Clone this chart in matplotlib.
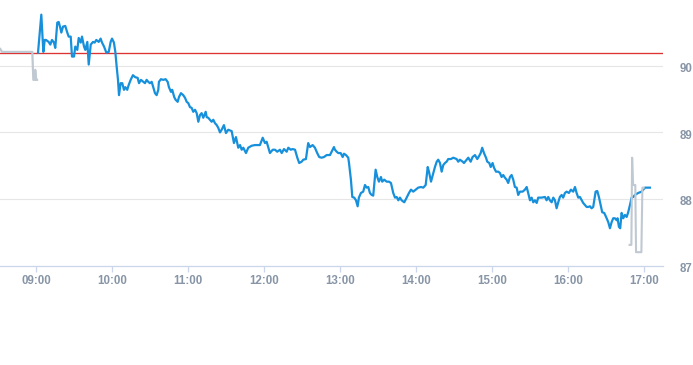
import matplotlib
matplotlib.use("Agg")
import matplotlib.pyplot as plt
from matplotlib.transforms import ScaledTranslation

plt.rcParams['font.family'] = ['Liberation Sans', 'DejaVu Sans']

# minutes after 09:00 and price, regular session
session_min = [1.6, 4.2, 5.8, 6.9, 7.9, 10.0, 11.3, 12.6, 14.2, 15.2, 16.8, 17.9, 19.2, 20.0, 21.3, 23.1,
               24.7, 25.8, 27.4, 28.4, 30.0, 31.0, 32.6, 33.7, 35.3, 36.3, 37.9, 38.9, 40.5, 41.6, 43.2,
               45.0, 46.3, 47.6, 49.5, 51.0, 52.1, 53.7, 55.5, 57.4, 58.9, 60.0, 61.5, 62.6, 63.7, 64.7,
               65.5, 66.8, 68.1, 69.4, 70.5, 72.0, 73.1, 74.7, 76.5, 78.3, 80.2, 81.3, 82.8, 84.7, 86.0,
               87.3, 88.6, 89.9, 91.3, 92.5, 93.9, 95.2, 96.5, 97.0, 98.6, 100.4, 102.3, 103.9, 104.9,
               106.5, 107.5, 109.1, 110.2, 111.8, 112.8, 114.4, 116.2, 117.6, 118.9, 120.2, 121.5, 122.8,
               124.1, 125.5, 126.8, 128.1, 129.4, 130.7, 132.0, 133.9, 134.7, 135.9, 137.3, 138.6, 139.9,
               141.2, 142.6, 143.8, 145.2, 146.5, 148.3, 149.9, 151.7, 154.4, 156.2, 157.8, 159.6, 161.0,
               162.3, 163.6, 165.7, 167.5, 170.2, 172.8, 176.7, 178.9, 180.7, 182.0, 184.6, 186.8, 188.6,
               190.4, 192.5, 193.9, 195.7, 197.8, 199.1, 201.0, 202.5, 204.4, 206.2, 207.7, 209.6, 210.9,
               213.0, 214.8, 216.2, 218.3, 220.1, 221.9, 223.5, 225.4, 227.2, 229.4, 232.0, 234.1, 235.1,
               235.9, 237.3, 238.5, 240.4, 242.0, 243.0, 244.6, 246.4, 247.0, 248.5, 249.6, 251.1, 252.5,
               253.8, 254.8, 256.4, 258.2, 259.6, 260.9, 262.2, 263.5, 264.9, 266.1, 268.0, 269.3, 270.6,
               272.2, 273.2, 274.8, 276.7, 278.5, 280.1, 281.9, 283.3, 284.6, 285.9, 287.2, 288.5, 290.6,
               292.5, 294.3, 295.9, 297.7, 299.6, 301.6, 303.8, 305.6, 307.5, 309.1, 310.1, 311.7, 313.5,
               314.8, 316.2, 317.4, 318.8, 320.1, 321.4, 322.7, 324.0, 325.3, 327.4, 329.3, 331.9, 333.2,
               334.5, 336.7, 337.7, 339.8, 341.1, 343.0, 344.5, 346.4, 348.2, 349.8, 350.9, 352.1, 353.5,
               355.1, 356.1, 357.7, 358.8, 360.3, 361.4, 363.0, 364.8, 366.1, 367.4, 368.7, 370.0, 371.4,
               372.6, 374.0, 375.3, 376.6, 377.9, 379.3, 380.5, 381.9, 384.0, 385.8, 387.2, 388.4, 389.8,
               391.1, 392.4, 393.7, 395.1, 396.3, 399.0, 401.6, 402.9, 404.2, 405.5, 406.9, 408.2, 409.5,
               410.8, 412.1, 413.4, 414.8, 416.0, 417.4, 418.7, 420.5, 422.1, 423.9, 425.3, 426.6, 427.9,
               429.2, 430.6, 431.8, 433.2, 434.5, 435.8, 437.1, 438.4, 439.7, 440.5, 441.6, 442.9, 444.2,
               445.2, 446.8, 448.4, 450.3, 451.6, 452.9, 454.2, 455.5, 456.8, 458.2, 458.9, 460.0, 461.0,
               462.1, 463.4, 464.7, 466.1, 467.3, 468.7, 470.0, 471.3, 472.6, 475.2, 477.9, 479.2, 480.5,
               484.4]
session_px = [90.20, 90.77, 90.21, 90.39, 90.39, 90.36, 90.32, 90.39, 90.35, 90.27, 90.65, 90.66, 90.57,
              90.50, 90.59, 90.60, 90.50, 90.44, 90.44, 90.14, 90.14, 90.29, 90.24, 90.42, 90.35, 90.44,
              90.29, 90.24, 90.36, 90.02, 90.32, 90.36, 90.35, 90.39, 90.36, 90.41, 90.35, 90.29, 90.20,
              90.21, 90.36, 90.41, 90.35, 90.21, 89.98, 89.79, 89.56, 89.74, 89.74, 89.64, 89.68, 89.64,
              89.71, 89.79, 89.86, 89.83, 89.82, 89.74, 89.79, 89.76, 89.74, 89.79, 89.76, 89.74, 89.76,
              89.68, 89.59, 89.56, 89.64, 89.76, 89.80, 89.79, 89.80, 89.76, 89.68, 89.61, 89.64, 89.53,
              89.49, 89.46, 89.53, 89.59, 89.56, 89.52, 89.46, 89.44, 89.38, 89.37, 89.31, 89.34, 89.29,
              89.16, 89.26, 89.29, 89.22, 89.31, 89.23, 89.22, 89.19, 89.16, 89.19, 89.14, 89.11, 89.07,
              89.00, 89.04, 89.11, 88.99, 89.04, 89.02, 88.84, 88.93, 88.77, 88.81, 88.74, 88.77, 88.69,
              88.77, 88.80, 88.81, 88.81, 88.92, 88.84, 88.86, 88.69, 88.74, 88.74, 88.71, 88.74, 88.69,
              88.75, 88.71, 88.77, 88.74, 88.75, 88.74, 88.62, 88.54, 88.56, 88.59, 88.60, 88.84, 88.78,
              88.81, 88.77, 88.69, 88.63, 88.62, 88.63, 88.66, 88.66, 88.74, 88.78, 88.74, 88.71, 88.69,
              88.69, 88.63, 88.68, 88.66, 88.62, 88.54, 88.29, 88.03, 88.02, 87.98, 87.89, 88.02, 88.09,
              88.11, 88.21, 88.17, 88.18, 88.09, 88.06, 88.05, 88.44, 88.33, 88.26, 88.33, 88.26, 88.29,
              88.26, 88.26, 88.24, 88.09, 88.02, 88.03, 87.98, 88.02, 87.98, 87.95, 88.02, 88.09, 88.14,
              88.11, 88.14, 88.17, 88.18, 88.17, 88.21, 88.48, 88.41, 88.26, 88.39, 88.48, 88.56, 88.59,
              88.54, 88.41, 88.51, 88.54, 88.56, 88.60, 88.60, 88.62, 88.60, 88.56, 88.59, 88.56, 88.54,
              88.59, 88.62, 88.56, 88.63, 88.66, 88.60, 88.65, 88.69, 88.77, 88.69, 88.62, 88.56, 88.54,
              88.48, 88.54, 88.47, 88.41, 88.41, 88.39, 88.33, 88.36, 88.32, 88.29, 88.24, 88.33, 88.36,
              88.29, 88.18, 88.17, 88.06, 88.11, 88.11, 88.14, 88.18, 88.09, 87.98, 88.02, 87.95, 87.98,
              87.94, 88.02, 88.02, 88.03, 87.98, 88.03, 87.98, 87.95, 88.02, 87.98, 87.86, 87.95, 88.03,
              88.06, 88.02, 88.09, 88.11, 88.09, 88.14, 88.11, 88.18, 88.09, 88.02, 88.03, 87.98, 87.94,
              87.91, 87.88, 87.88, 87.89, 87.86, 87.88, 87.98, 88.11, 88.12, 88.03, 87.94, 87.80, 87.79,
              87.71, 87.65, 87.56, 87.65, 87.71, 87.71, 87.68, 87.71, 87.58, 87.56, 87.79, 87.71, 87.76,
              87.73, 87.80, 87.91, 88.02, 88.03, 88.06, 88.09, 88.11, 88.14, 88.17, 88.17]

# pre-market and after-hours trades (grey)
pre_min = [-30.0, -28.4, -26.8, -2.9, -2.1, -1.0, -0.6, 0.2, 0.8]
pre_px = [90.24, 90.26, 90.21, 90.21, 89.79, 89.79, 89.94, 89.79, 89.79]
post_min = [468.4, 469.8, 470.4, 471.2, 472.9, 473.5, 477.7, 478.5, 479.5]
post_px = [87.31, 87.31, 88.62, 88.21, 88.21, 87.20, 87.20, 88.17, 88.17]

prev_close = 90.2
y_ticks = [87, 88, 89, 90]
x_ticks = [0, 60, 120, 180, 240, 300, 360, 420, 480]
x_labels = ["09:00", "10:00", "11:00", "12:00", "13:00", "14:00", "15:00", "16:00", "17:00"]

fig = plt.figure(figsize=(6.93, 3.65), dpi=100)
ax = fig.add_axes([0, 1 - 265.5 / 365, 663.3 / 693, 265.5 / 365])

ax.axhline(prev_close, color='#dd3333', lw=0.95, zorder=2)
ax.plot(session_min, session_px, color='#1790dc', lw=1.6, zorder=3, solid_joinstyle='round')
ax.plot(pre_min, pre_px, color='#c0c9d2', lw=1.6, zorder=4)
ax.plot(post_min, post_px, color='#c0c9d2', lw=1.5, zorder=4)

ax.set_xlim(-28.4, 495)
ax.set_ylim(87, 90.99)

ax.set_xticks(x_ticks)
ax.set_xticklabels(x_labels)
ax.set_yticks(y_ticks)
ax.set_yticklabels([str(v) for v in y_ticks])
ax.yaxis.tick_right()

ax.grid(axis='y', color='#e6e6e6', lw=0.8, zorder=0)
ax.set_axisbelow(True)
for s in ['top', 'left', 'right']:
    ax.spines[s].set_visible(False)
ax.spines['bottom'].set_color('#ccd6eb')
ax.spines['bottom'].set_linewidth(0.9)

lab_col = '#8795a6'
ax.tick_params(axis='x', length=4, width=0.9, color='#ccd6eb', pad=3, labelsize=8.3, labelcolor=lab_col)
ax.tick_params(axis='y', length=0, pad=11.5, labelsize=8.3, labelcolor=lab_col)
for lbl in ax.get_yticklabels():
    lbl.set_fontweight('bold')
    lbl.set_transform(lbl.get_transform() + ScaledTranslation(0, -2 / 100, fig.dpi_scale_trans))
for lbl in ax.get_xticklabels():
    lbl.set_fontweight('bold')

fig.savefig("out.png", dpi=100)
